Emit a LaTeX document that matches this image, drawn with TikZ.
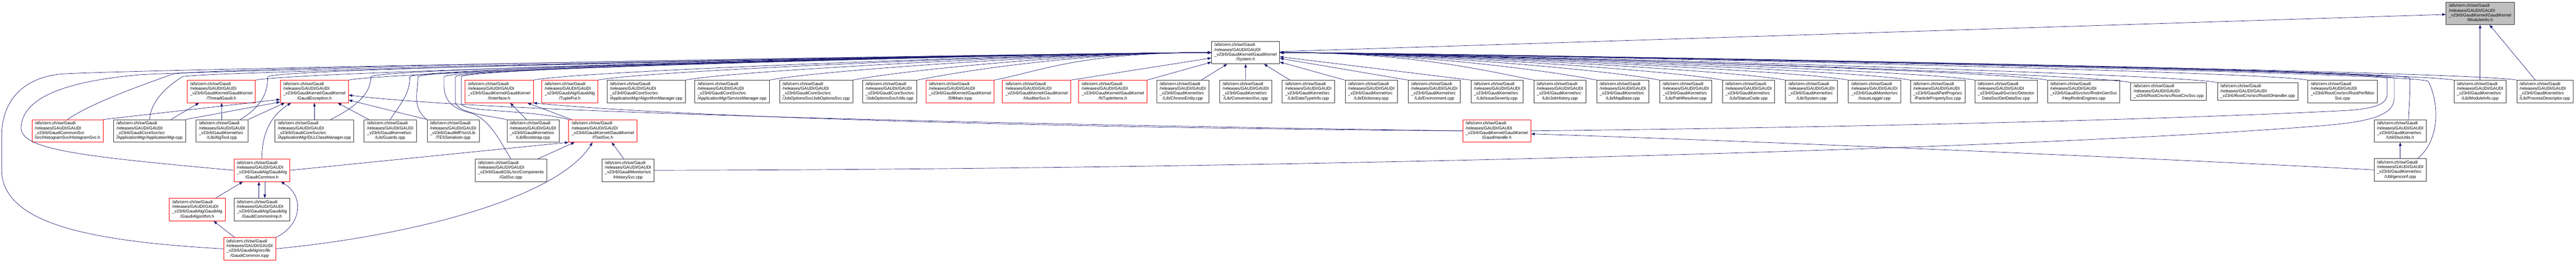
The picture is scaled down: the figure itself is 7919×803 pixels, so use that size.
\documentclass[tikz,border=0pt]{standalone}
\usepackage{fontspec}
\setmainfont{Liberation Sans}
\usetikzlibrary{arrows.meta}

\definecolor{edgeblue}{HTML}{191970}
\definecolor{rootgray}{HTML}{BFBFBF}

% file labels: path lines flush left, last line centred
\newcommand{\flab}[2]{\begin{tabular}{@{}l@{}}/afs/cern.ch/sw/Gaudi\\/releases/GAUDI/GAUDI\\\_v23r6/#1\\\multicolumn{1}{@{}c@{}}{#2}\end{tabular}}
\newcommand{\flabiii}[1]{\begin{tabular}{@{}l@{}}/afs/cern.ch/sw/Gaudi\\/releases/GAUDI/GAUDI\\\_v23r6/#1\end{tabular}}

\tikzset{
  file/.style={draw=black!80, line width=1.3pt, fill=white, inner xsep=9pt, inner ysep=5pt, font=\fontsize{13}{14.7}\selectfont},
  trunc/.style={file, draw=red},
  root/.style={file, fill=rootgray},
  incl/.style={draw=edgeblue, line width=1.1pt, -{Triangle[length=11pt,width=8pt]}},
}

\begin{document}
\begin{tikzpicture}[x=1pt, y=-1pt]
	\useasboundingbox (0,0) rectangle (7919,803);
	
	% top
	\node[root] (modinfoh) at (7624,41) {\flab{GaudiKernel/GaudiKernel}{/ModuleInfo.h}};
	\node[file] (systemh) at (3829,161.5) {\flab{GaudiKernel/GaudiKernel}{/System.h}};
	
	% rank 2
	\node[trunc] (threadgaudi) at (680.5,281) {\flab{GaudiKernel/GaudiKernel}{/ThreadGaudi.h}};
	\node[trunc] (gaudiexc) at (966.5,281) {\flab{GaudiKernel/GaudiKernel}{/GaudiException.h}};
	\node[trunc] (iinterface) at (1534.5,281) {\flab{GaudiKernel/GaudiKernel}{/IInterface.h}};
	\node[trunc] (tupleput) at (1751.5,281) {\flab{GaudiAlg/GaudiAlg}{/TuplePut.h}};
	\node[file] (algmgr) at (1986.5,281) {\flab{GaudiCoreSvc/src}{/ApplicationMgr/AlgorithmManager.cpp}};
	\node[file] (svcmgr) at (2250.5,281) {\flab{GaudiCoreSvc/src}{/ApplicationMgr/ServiceManager.cpp}};
	\node[file] (jobopt) at (2509,281) {\flab{GaudiCoreSvc/src}{/JobOptionsSvc/JobOptionsSvc.cpp}};
	\node[file] (utils) at (2735.5,281) {\flab{GaudiCoreSvc/src}{/JobOptionsSvc/Utils.cpp}};
	\node[trunc] (dllmain) at (2951.5,281) {\flab{GaudiKernel/GaudiKernel}{/DllMain.icpp}};
	\node[trunc] (iauditor) at (3186.5,281) {\flab{GaudiKernel/GaudiKernel}{/IAuditorSvc.h}};
	\node[trunc] (ntupleitems) at (3421,281) {\flab{GaudiKernel/GaudiKernel}{/NTupleItems.h}};
	\node[file] (chrono) at (3636,281) {\flab{GaudiKernel/src}{/Lib/ChronoEntity.cpp}};
	\node[file] (convsvc) at (3829.5,281) {\flab{GaudiKernel/src}{/Lib/ConversionSvc.cpp}};
	\node[file] (datatype) at (4022,281) {\flab{GaudiKernel/src}{/Lib/DataTypeInfo.cpp}};
	\node[file] (dictionary) at (4215.5,281) {\flab{GaudiKernel/src}{/Lib/Dictionary.cpp}};
	\node[file] (environment) at (4409.5,281) {\flab{GaudiKernel/src}{/Lib/Environment.cpp}};
	\node[file] (issuesev) at (4602,281) {\flab{GaudiKernel/src}{/Lib/IssueSeverity.cpp}};
	\node[file] (jobhistory) at (4795.5,281) {\flab{GaudiKernel/src}{/Lib/JobHistory.cpp}};
	\node[file] (mapbase) at (4989,281) {\flab{GaudiKernel/src}{/Lib/MapBase.cpp}};
	\node[file] (pathres) at (5182.5,281) {\flab{GaudiKernel/src}{/Lib/PathResolver.cpp}};
	\node[file] (statuscode) at (5375.5,281) {\flab{GaudiKernel/src}{/Lib/StatusCode.cpp}};
	\node[file] (systemcpp) at (5569,281) {\flab{GaudiKernel/src}{/Lib/System.cpp}};
	\node[file] (issuelogger) at (5762.5,281) {\flab{GaudiMonitor/src}{/IssueLogger.cpp}};
	\node[file] (partprop) at (5957,281) {\flab{GaudiPartProp/src}{/ParticlePropertySvc.cpp}};
	\node[file] (detdata) at (6166.5,281) {\flab{GaudiSvc/src/Detector}{DataSvc/DetDataSvc.cpp}};
	\node[file] (heprndm) at (6405.5,281) {\flab{GaudiSvc/src/RndmGenSvc}{/HepRndmEngines.cpp}};
	\node[file] (rootcnvsvc) at (6666.5,281) {\flabiii{RootCnv/src/RootCnvSvc.cpp}};
	\node[file] (rootio) at (6940.5,281) {\flabiii{RootCnv/src/RootIOHandler.cpp}};
	\node[file] (rootperf) at (7201,281) {\flab{RootCnv/src/RootPerfMon}{Svc.cpp}};
	\node[file] (modinfocpp) at (7624,281) {\flab{GaudiKernel/src}{/Lib/ModuleInfo.cpp}};
	\node[file] (procdesc) at (7823,281) {\flab{GaudiKernel/src}{/Lib/ProcessDescriptor.cpp}};
	
	% rank 3
	\node[trunc] (histsvc) at (207.5,402) {\flab{GaudiCommonSvc}{/src/HistogramSvc/HistogramSvc.h}};
	\node[file] (appmgr) at (459.5,402) {\flab{GaudiCoreSvc/src}{/ApplicationMgr/ApplicationMgr.cpp}};
	\node[file] (algtool) at (682.5,402) {\flab{GaudiKernel/src}{/Lib/AlgTool.cpp}};
	\node[file] (dllclass) at (966.5,402) {\flab{GaudiCoreSvc/src}{/ApplicationMgr/DLLClassManager.cpp}};
	\node[file] (guards) at (1199.5,402) {\flab{GaudiKernel/src}{/Lib/Guards.cpp}};
	\node[file] (tesser) at (1393,402) {\flab{GaudiMP/src/Lib}{/TESSerializer.cpp}};
	\node[file] (bootstrap) at (1638.5,402) {\flab{GaudiKernel/src}{/Lib/Bootstrap.cpp}};
	\node[trunc] (itoolsvc) at (1853,402) {\flab{GaudiKernel/GaudiKernel}{/IToolSvc.h}};
	\node[trunc] (gaudihandle) at (4601.5,402) {\flab{GaudiKernel/GaudiKernel}{/GaudiHandle.h}};
	\node[file] (dsoutils) at (7378.5,402) {\flab{GaudiKernel/src}{/Util/DsoUtils.h}};
	
	% rank 4 - 6
	\node[trunc] (gaudicommonh) at (805,523) {\flab{GaudiAlg/GaudiAlg}{/GaudiCommon.h}};
	\node[file] (gslsvc) at (1570.5,523) {\flab{GaudiGSL/src/Components}{/GslSvc.cpp}};
	\node[file] (historysvc) at (1930.5,523) {\flab{GaudiMonitor/src}{/HistorySvc.cpp}};
	\node[file] (genconf) at (7378.5,521.5) {\flab{GaudiKernel/src}{/Util/genconf.cpp}};
	\node[trunc] (gaudialgh) at (606.5,643.5) {\flab{GaudiAlg/GaudiAlg}{/GaudiAlgorithm.h}};
	\node[file] (gaudicommonimp) at (805,643.5) {\flab{GaudiAlg/GaudiAlg}{/GaudiCommonImp.h}};
	\node[trunc] (gaudicommonicpp) at (767.5,764) {\flab{GaudiAlg/src/lib}{/GaudiCommon.icpp}};
	
	% into ModuleInfo.h
	\draw[incl] (systemh) -- (modinfoh);
	\draw[incl] (modinfocpp) -- (modinfoh);
	\draw[incl] (procdesc) -- (modinfoh);
	
	% into System.h, from the left
	\draw[incl] (threadgaudi.north east) .. controls +(150,-30) and +(-400,0) .. (systemh.west);
	\draw[incl] (gaudiexc.north east) .. controls +(150,-30) and +(-400,0) .. (systemh.west);
	\draw[incl] (iinterface.north east) .. controls +(150,-30) and +(-400,0) .. (systemh.west);
	\draw[incl] (tupleput.north east) .. controls +(150,-30) and +(-400,0) .. (systemh.west);
	\draw[incl] (algmgr.north east) .. controls +(150,-30) and +(-400,0) .. (systemh.west);
	\draw[incl] (svcmgr.north east) .. controls +(150,-30) and +(-400,0) .. (systemh.west);
	\draw[incl] (jobopt.north east) .. controls +(150,-30) and +(-400,0) .. (systemh.west);
	\draw[incl] (utils.north east) .. controls +(150,-30) and +(-400,0) .. (systemh.west);
	\draw[incl] (dllmain.north east) .. controls +(150,-30) and +(-400,0) .. (systemh.west);
	\draw[incl] (iauditor.north east) -- (systemh);
	\draw[incl] (ntupleitems.north east) -- (systemh);
	\draw[incl] (histsvc.north) .. controls (290,310) and (470,250) .. (530,228) .. controls (590,206) and (3404,161.5) .. (systemh.west);
	\draw[incl] (appmgr.north) .. controls (465,300) and (530,255) .. (560,236) .. controls (590,217) and (3404,161.5) .. (systemh.west);
	\draw[incl] (algtool.32) .. controls (800,330) and (823,290) .. (823,236) .. controls (823,206) and (3404,161.5) .. (systemh.west);
	\draw[incl] (dllclass.35) .. controls (1090,330) and (1140,290) .. (1140,236) .. controls (1140,206) and (3404,161.5) .. (systemh.west);
	\draw[incl] (guards.north) .. controls (1230,320) and (1260,290) .. (1260,236) .. controls (1260,206) and (3404,161.5) .. (systemh.west);
	\draw[incl] (tesser.north west) .. controls (1265,330) and (1285,280) .. (1285,236) .. controls (1285,206) and (3404,161.5) .. (systemh.west);
	\draw[incl] (bootstrap.north west) .. controls (1480,352) and (1400,345) .. (1400,310) -- (1400,236) .. controls (1400,206) and (3404,161.5) .. (systemh.west);
	\draw[incl] (itoolsvc.north west) .. controls (1620,335) and (1418,345) .. (1418,318) -- (1418,236) .. controls (1418,206) and (3404,161.5) .. (systemh.west);
	\draw[incl] (gslsvc.north) .. controls (1530,420) and (1500,360) .. (1440,345) .. controls (1380,330) and (1365,300) .. (1365,260) -- (1365,236) .. controls (1365,206) and (3404,161.5) .. (systemh.west);
	\draw[incl] (gaudicommonh.west) .. controls (250,480) and (60,460) .. (65,390) .. controls (70,300) and (200,250) .. (425,230) .. controls (600,215) and (3404,161.5) .. (systemh.west);
	\draw[incl] (gaudicommonicpp.west) .. controls (250,740) and (5,680) .. (5,520) -- (5,420) .. controls (5,300) and (80,240) .. (181,228) .. controls (300,214) and (3404,161.5) .. (systemh.west);
	
	% into System.h, from below and the right
	\draw[incl] (chrono) -- (systemh);
	\draw[incl] (convsvc) -- (systemh);
	\draw[incl] (datatype) -- (systemh);
	\draw[incl] (dictionary.north west) -- (systemh);
	\draw[incl] (environment.north west) -- (systemh);
	\draw[incl] (issuesev.north west) -- (systemh);
	\draw[incl] (jobhistory.north west) .. controls +(-150,-30) and +(400,0) .. (systemh.east);
	\draw[incl] (mapbase.north west) .. controls +(-150,-30) and +(400,0) .. (systemh.east);
	\draw[incl] (pathres.north west) .. controls +(-150,-30) and +(400,0) .. (systemh.east);
	\draw[incl] (statuscode.north west) .. controls +(-150,-30) and +(400,0) .. (systemh.east);
	\draw[incl] (systemcpp.north west) .. controls +(-150,-30) and +(400,0) .. (systemh.east);
	\draw[incl] (issuelogger.north west) .. controls +(-150,-30) and +(400,0) .. (systemh.east);
	\draw[incl] (partprop.north west) .. controls +(-150,-30) and +(400,0) .. (systemh.east);
	\draw[incl] (detdata.north west) .. controls +(-150,-30) and +(400,0) .. (systemh.east);
	\draw[incl] (heprndm.north west) .. controls +(-150,-30) and +(400,0) .. (systemh.east);
	\draw[incl] (rootcnvsvc.north west) .. controls +(-150,-30) and +(400,0) .. (systemh.east);
	\draw[incl] (rootio.north west) .. controls +(-150,-30) and +(400,0) .. (systemh.east);
	\draw[incl] (rootperf.north west) .. controls +(-150,-30) and +(400,0) .. (systemh.east);
	\draw[incl] (modinfocpp.north west) .. controls +(-150,-30) and +(400,0) .. (systemh.east);
	\draw[incl] (procdesc.north west) .. controls +(-150,-30) and +(400,0) .. (systemh.east);
	\draw[incl] (gaudihandle.east) .. controls (5600,392) and (6600,370) .. (7200,340) .. controls (7300,335) and (7338,320) .. (7338,290) -- (7338,240) .. controls (7338,215) and (4300,161.5) .. (systemh.east);
	\draw[incl] (historysvc.east) .. controls (4000,520) and (6300,455) .. (7150,385) .. controls (7300,372) and (7360,350) .. (7360,300) -- (7360,240) .. controls (7360,212) and (4300,161.5) .. (systemh.east);
	\draw[incl] (dsoutils.54) .. controls (7406,320) and (7410,280) .. (7408,240) .. controls (7406,212) and (4300,161.5) .. (systemh.east);
	\draw[incl] (genconf.33) .. controls (7500,430) and (7500,320) .. (7465,250) .. controls (7450,220) and (4300,161.5) .. (systemh.east);
	
	% ThreadGaudi.h, GaudiException.h, IInterface.h, GaudiHandle.h
	\draw[incl] (appmgr.28) -- (threadgaudi.207);
	\draw[incl] (algtool) -- (threadgaudi);
	\draw[incl] (histsvc.north east) -- (gaudiexc.193);
	\draw[incl] (appmgr.north east) -- (gaudiexc.197);
	\draw[incl] (algtool.north east) -- (gaudiexc.201);
	\draw[incl] (dllclass) -- (gaudiexc);
	\draw[incl] (guards.152) -- (gaudiexc.-26);
	\draw[incl] (tesser.north west) -- (gaudiexc.-14);
	\draw[incl] (gaudicommonh.north) .. controls (805,420) and (825,360) .. (gaudiexc.206);
	\draw[incl] (gaudihandle.west) .. controls (3000,380) and (1500,345) .. (gaudiexc.-6);
	\draw[incl] (gaudihandle.west) .. controls (3000,390) and (2000,352) .. (iinterface.south east);
	\draw[incl] (bootstrap.120) -- (iinterface.-46);
	\draw[incl] (itoolsvc.160) -- (iinterface.-22);
	\draw[incl] (genconf.west) .. controls (6500,480) and (5300,430) .. (gaudihandle.-5);
	\draw[incl] (genconf) -- (dsoutils);
	
	% IToolSvc.h and the GaudiAlg headers
	\draw[incl] (gaudicommonh.east) -- (itoolsvc.south west);
	\draw[incl] (gslsvc.23) -- (itoolsvc.202);
	\draw[incl] (historysvc.110) -- (itoolsvc.-52);
	\draw[incl] (gaudicommonicpp.east) .. controls (1300,720) and (1720,600) .. (itoolsvc.228);
	\draw[incl] ([xshift=9pt]gaudicommonh.south) -- ([xshift=9pt]gaudicommonimp.north);
	\draw[incl] ([xshift=-9pt]gaudicommonimp.north) -- ([xshift=-9pt]gaudicommonh.south);
	\draw[incl] (gaudialgh.32) -- (gaudicommonh.211);
	\draw[incl] (gaudicommonicpp.143) -- (gaudialgh.-35);
	\draw[incl] (gaudicommonicpp.north east) .. controls (930,690) and (935,600) .. (gaudicommonh.-31);
\end{tikzpicture}
\end{document}
